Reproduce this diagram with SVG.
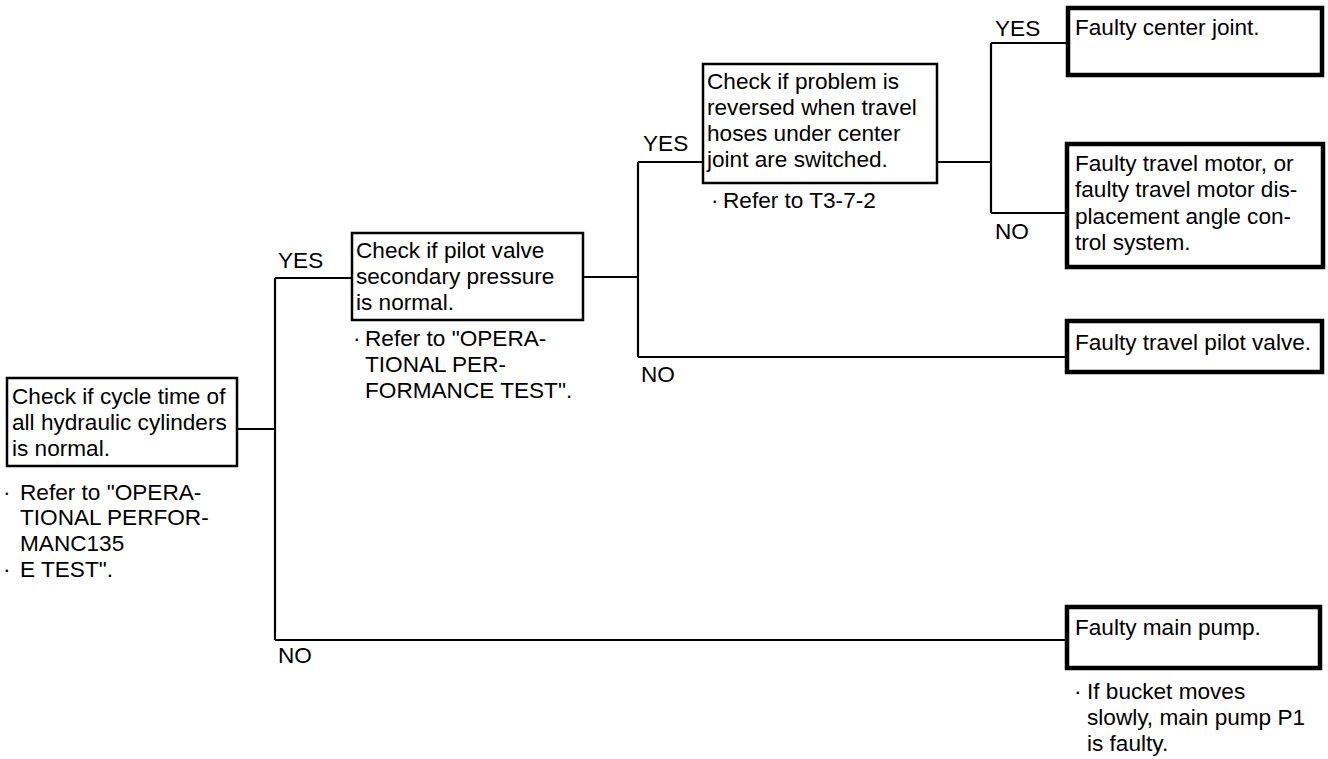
<svg xmlns="http://www.w3.org/2000/svg" width="1328" height="759" viewBox="0 0 1328 759">
<style>
text{font-family:"Liberation Sans",Arial,sans-serif;font-size:22.6px;fill:#000}
.q{fill:#fff;stroke:#000;stroke-width:2.5}
.r{fill:#fff;stroke:#000;stroke-width:4.5}
.c{fill:none;stroke:#000;stroke-width:2.2}
</style>
<rect width="1328" height="759" fill="#fff"/>
<g id="connectors">
<path class="c" d="M237 429H275M275 278V640M275 278H352M275 640H1067"/>
<path class="c" d="M583 277H638M638 162V357M638 162H703M638 357H1067"/>
<path class="c" d="M937 162H991M991 43V213M991 43H1068M991 213H1067"/>
<text x="278" y="268">YES</text>
<text x="278" y="663">NO</text>
<text x="643" y="151">YES</text>
<text x="641" y="382">NO</text>
<text x="995" y="36">YES</text>
<text x="995" y="239">NO</text>
</g>
<g id="n1">
<rect class="q" x="7" y="378" width="230" height="88"/>
<text x="12" y="404">Check if cycle time of</text>
<text x="12" y="430">all hydraulic cylinders</text>
<text x="12" y="456">is normal.</text>
<text y="500"><tspan x="3">·</tspan><tspan x="20">Refer to "OPERA-</tspan></text>
<text x="20" y="525">TIONAL PERFOR-</text>
<text x="20" y="551">MANC135</text>
<text y="577"><tspan x="3">·</tspan><tspan x="20">E TEST".</tspan></text>
</g>
<g id="n2">
<rect class="q" x="352" y="233" width="231" height="87"/>
<text x="356" y="258">Check if pilot valve</text>
<text x="356" y="284">secondary pressure</text>
<text x="356" y="310">is normal.</text>
<text y="346"><tspan x="353">·</tspan><tspan x="365">Refer to "OPERA-</tspan></text>
<text x="365" y="372">TIONAL PER-</text>
<text x="365" y="398">FORMANCE TEST".</text>
</g>
<g id="n3">
<rect class="q" x="703" y="64" width="234" height="119"/>
<text x="707" y="89">Check if problem is</text>
<text x="707" y="115">reversed when travel</text>
<text x="707" y="141">hoses under center</text>
<text x="707" y="167">joint are switched.</text>
<text y="208"><tspan x="711">·</tspan><tspan x="723">Refer to T3-7-2</tspan></text>
</g>
<g id="r1">
<rect class="r" x="1068" y="8" width="254" height="67"/>
<text x="1075" y="35">Faulty center joint.</text>
</g>
<g id="r2">
<rect class="r" x="1067" y="144" width="256" height="123"/>
<text x="1075" y="171">Faulty travel motor, or</text>
<text x="1075" y="197">faulty travel motor dis-</text>
<text x="1075" y="224">placement angle con-</text>
<text x="1075" y="250">trol system.</text>
</g>
<g id="r3">
<rect class="r" x="1067" y="321" width="255" height="51"/>
<text x="1075" y="350">Faulty travel pilot valve.</text>
</g>
<g id="r4">
<rect class="r" x="1067" y="607" width="253" height="61"/>
<text x="1075" y="635">Faulty main pump.</text>
<text y="699"><tspan x="1074">·</tspan><tspan x="1087">If bucket moves</tspan></text>
<text x="1087" y="725">slowly, main pump P1</text>
<text x="1087" y="751">is faulty.</text>
</g>
</svg>
